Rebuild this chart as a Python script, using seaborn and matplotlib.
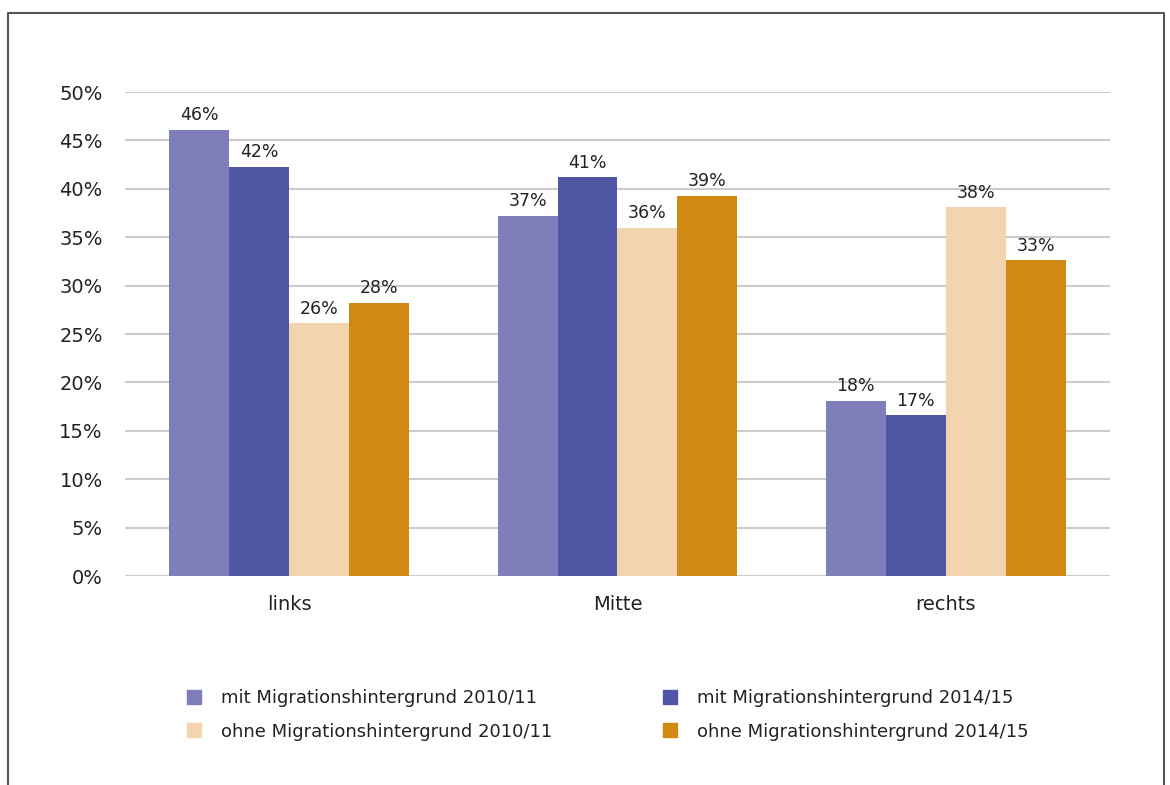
#!/usr/bin/env python3
"""Political self-placement by migration background, grouped bar chart."""

import matplotlib
matplotlib.use("Agg")
import matplotlib.pyplot as plt
from matplotlib.lines import Line2D
import pandas as pd
import seaborn as sns

# Data
categories = ["links", "Mitte", "rechts"]
series = [
    "mit Migrationshintergrund 2010/11",
    "mit Migrationshintergrund 2014/15",
    "ohne Migrationshintergrund 2010/11",
    "ohne Migrationshintergrund 2014/15",
]
mit_2010 = [46.1, 37.2, 18.1]
mit_2014 = [42.3, 41.2, 16.6]
ohne_2010 = [26.1, 36.0, 38.1]
ohne_2014 = [28.2, 39.3, 32.6]
yticks = [0, 5, 10, 15, 20, 25, 30, 35, 40, 45, 50]

colors = ["#7F7DBA", "#5057A5", "#F2D5AF", "#D08A14"]

rows = []
for name, vals in zip(series, [mit_2010, mit_2014, ohne_2010, ohne_2014]):
    for cat, v in zip(categories, vals):
        rows.append({"Kategorie": cat, "Gruppe": name, "Wert": v})
df = pd.DataFrame(rows)

sns.set_style("white")
plt.rcParams["font.family"] = ["DejaVu Sans"]
text_color = "#222222"

fig = plt.figure(figsize=(11.7, 7.85), dpi=100)
ax = fig.add_axes([0.1068, 0.2662, 0.8419, 0.6166])

sns.barplot(data=df, x="Kategorie", y="Wert", hue="Gruppe", order=categories,
            hue_order=series, palette=colors, width=0.73, gap=0,
            saturation=1, errorbar=None, linewidth=0, ax=ax, zorder=3)

for cont in ax.containers:
    ax.bar_label(cont, labels=[f"{round(b.get_height())}%" for b in cont],
                 padding=4, fontsize=12.5, color=text_color)

ax.set_xlim(-0.5, 2.5)
ax.set_ylim(0, 50)
ax.set_yticks(yticks)
ax.set_yticklabels([f"{t}%" for t in yticks])
ax.yaxis.grid(True, color="#CCCCCC", linewidth=1.5, zorder=0)
ax.set_axisbelow(True)
for side in ["top", "right", "left", "bottom"]:
    ax.spines[side].set_visible(False)
ax.tick_params(axis="y", length=0, pad=16, labelsize=14, labelcolor=text_color)
ax.tick_params(axis="x", length=0, pad=14, labelsize=14, labelcolor=text_color)
ax.set_xlabel("")
ax.set_ylabel("")

ax.legend_.remove()
order = [0, 2, 1, 3]
proxies = [Line2D([], [], marker="s", linestyle="none", markersize=10,
                  markerfacecolor=colors[i], markeredgecolor=colors[i])
           for i in order]
fig.legend(proxies, [series[i] for i in order], ncol=2, loc="center",
           bbox_to_anchor=(0.515, 0.089), frameon=False, fontsize=13,
           handletextpad=0.5, columnspacing=5.5, labelspacing=0.85,
           labelcolor=text_color)

# outer frame, open at the bottom
frame = Line2D([8 / 1170, 8 / 1170, 1164 / 1170, 1164 / 1170],
               [0, 1 - 13 / 785, 1 - 13 / 785, 0],
               transform=fig.transFigure, color="#555555", linewidth=1.5)
fig.add_artist(frame)

fig.savefig("out.png", dpi=100)
